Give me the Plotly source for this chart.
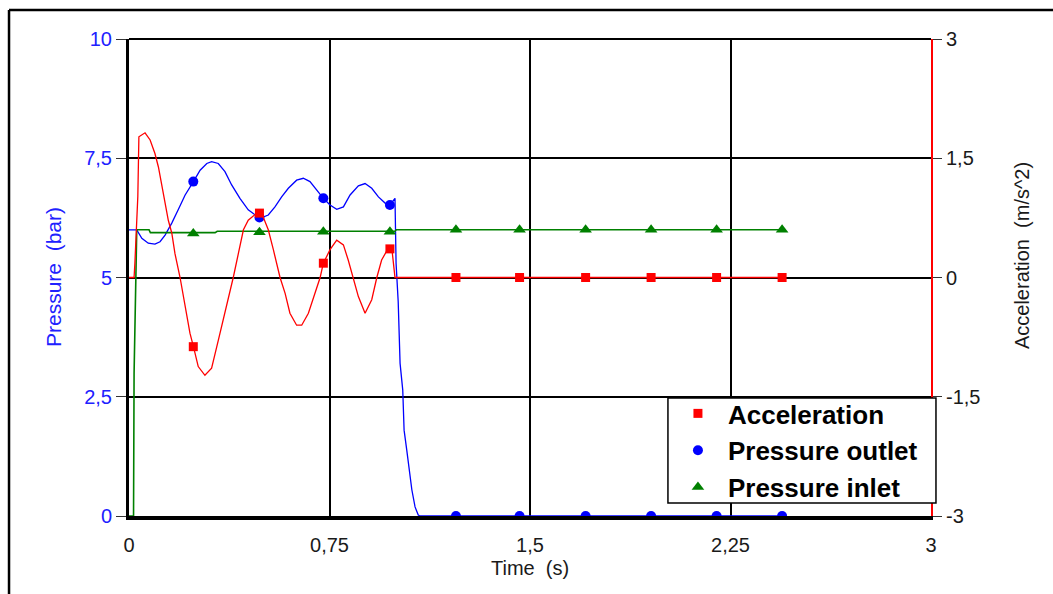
import plotly.graph_objects as go

# ---- time traces (s) ----
accel_t = [0, 0.019, 0.022, 0.033, 0.037, 0.060, 0.079, 0.097, 0.110, 0.122,
           0.135, 0.147, 0.160, 0.172, 0.191, 0.210, 0.228, 0.241, 0.259, 0.284,
           0.309, 0.334, 0.359, 0.390, 0.409, 0.428, 0.446, 0.478, 0.496, 0.521,
           0.540, 0.565, 0.584, 0.602, 0.627, 0.646, 0.671, 0.696, 0.715, 0.727,
           0.752, 0.777, 0.802, 0.820, 0.839, 0.858, 0.883, 0.908, 0.927, 0.945,
           0.970, 0.983, 0.995, 2.444]
accel = [0, 0, 0.18, 1.02, 1.77, 1.82, 1.73, 1.56, 1.39, 1.18,
         0.93, 0.72, 0.56, 0.30, 0, -0.37, -0.70, -0.87, -1.12, -1.23,
         -1.14, -0.79, -0.45, 0, 0.30, 0.60, 0.72, 0.81, 0.81, 0.60,
         0.35, 0, -0.20, -0.45, -0.60, -0.60, -0.45, -0.20, 0, 0.18,
         0.35, 0.47, 0.41, 0.22, 0, -0.24, -0.45, -0.28, 0, 0.22,
         0.37, 0.37, 0, 0]

outlet_t = [0, 0.029, 0.048, 0.072, 0.097, 0.116, 0.135, 0.160, 0.184, 0.210,
            0.241, 0.266, 0.291, 0.309, 0.334, 0.359, 0.384, 0.415, 0.446, 0.484,
            0.490, 0.521, 0.546, 0.571, 0.596, 0.627, 0.652, 0.677, 0.702, 0.727,
            0.752, 0.777, 0.802, 0.827, 0.858, 0.883, 0.908, 0.933, 0.958, 0.976,
            0.995, 0.999, 1.007, 1.014, 1.024, 1.029, 1.039, 1.049, 1.058, 1.070,
            1.082, 1.089, 2.444]
outlet_p = [6.0, 6.0, 5.82, 5.72, 5.70, 5.75, 5.89, 6.14, 6.42, 6.73,
            7.01, 7.25, 7.39, 7.43, 7.39, 7.22, 6.94, 6.66, 6.42, 6.27,
            6.24, 6.31, 6.48, 6.69, 6.87, 7.04, 7.08, 7.01, 6.83, 6.66,
            6.52, 6.43, 6.48, 6.73, 6.92, 6.97, 6.87, 6.69, 6.56, 6.52,
            6.66, 5.30, 4.49, 3.20, 2.64, 1.80, 1.38, 0.90, 0.55, 0.19,
            0.02, 0, 0]

inlet_t = [0, 0.017, 0.019, 0.029, 0.075, 0.080, 0.322, 0.330, 0.995, 1.000, 2.444]
inlet_p = [0, 0, 3.0, 6.0, 6.0, 5.94, 5.94, 5.97, 5.97, 6.0, 6.0]

# ---- sampled marker points ----
marker_t = [0.2405, 0.488, 0.727, 0.976, 1.223, 1.461, 1.708, 1.953, 2.198, 2.443]
marker_accel = [-0.87, 0.81, 0.18, 0.36, 0, 0, 0, 0, 0, 0]
marker_outlet = [7.01, 6.26, 6.66, 6.52, 0, 0, 0, 0, 0, 0]
marker_inlet = [5.92, 5.95, 5.96, 5.96, 6.0, 6.0, 6.0, 6.0, 6.0, 6.0]

# ---- axes ticks ----
x_ticks = [0, 0.75, 1.5, 2.25, 3]
x_labels = ["0", "0,75", "1,5", "2,25", "3"]
p_ticks = [0, 2.5, 5, 7.5, 10]
p_labels = ["0", "2,5", "5", "7,5", "10"]
a_ticks = [-3, -1.5, 0, 1.5, 3]
a_labels = ["-3", "-1,5", "0", "1,5", "3"]

RED = "#ff0000"
BLUE = "#0000ff"
GREEN = "#008000"
FONT = "Liberation Sans, Arial, sans-serif"
DARK = "#1a1a1a"

fig = go.Figure()

# curves
fig.add_trace(go.Scatter(x=accel_t, y=accel, yaxis="y2", mode="lines",
                         line=dict(color=RED, width=1.3), showlegend=False,
                         hoverinfo="skip"))
fig.add_trace(go.Scatter(x=outlet_t, y=outlet_p, mode="lines",
                         line=dict(color=BLUE, width=1.3), showlegend=False,
                         hoverinfo="skip"))
fig.add_trace(go.Scatter(x=inlet_t, y=inlet_p, mode="lines",
                         line=dict(color=GREEN, width=1.6), showlegend=False,
                         hoverinfo="skip"))

# markers (these carry the legend)
fig.add_trace(go.Scatter(x=marker_t, y=marker_accel, yaxis="y2", mode="markers",
                         name="Acceleration", legendgroup="a",
                         marker=dict(symbol="square", size=9, color=RED)))
fig.add_trace(go.Scatter(x=marker_t, y=marker_outlet, mode="markers",
                         name="Pressure outlet", legendgroup="b",
                         marker=dict(symbol="circle", size=10, color=BLUE)))
fig.add_trace(go.Scatter(x=marker_t, y=marker_inlet, mode="markers",
                         name="Pressure inlet", legendgroup="c",
                         marker=dict(symbol="triangle-up", size=11, color=GREEN)))

fig.update_layout(
    width=1053, height=594,
    margin=dict(l=129, r=122, t=39, b=78),
    paper_bgcolor="white", plot_bgcolor="white",
    font=dict(family=FONT, size=20, color=DARK),
    xaxis=dict(range=[0, 3], tickvals=x_ticks, ticktext=x_labels,
               showgrid=True, gridcolor="black", gridwidth=1.5,
               zeroline=False, showline=True, linecolor="black", linewidth=4,
               ticks="outside", ticklen=8, tickcolor="rgba(0,0,0,0)",
               tickfont=dict(size=20, color=DARK, family=FONT)),
    yaxis=dict(range=[0, 10], tickvals=p_ticks, ticktext=p_labels,
               showgrid=True, gridcolor="black", gridwidth=2,
               zeroline=False, showline=True, linecolor="black", linewidth=3,
               ticks="outside", ticklen=10, tickcolor="#333333", tickwidth=1,
               tickfont=dict(size=20, color="#2020ff", family=FONT)),
    yaxis2=dict(range=[-3, 3], tickvals=a_ticks, ticktext=a_labels,
                overlaying="y", side="right", showgrid=False, zeroline=False,
                showline=True, linecolor=RED, linewidth=2,
                ticks="outside", ticklen=9, tickcolor="#333333", tickwidth=1,
                tickfont=dict(size=20, color=DARK, family=FONT)),
    legend=dict(x=0.672, y=0.2642, xanchor="left", yanchor="top",
                bgcolor="rgba(0,0,0,0)", borderwidth=0,
                font=dict(family=FONT, size=26, color="black", weight="bold"),
                traceorder="grouped", tracegroupgap=0, itemwidth=50),
    shapes=[
        # legend box
        dict(type="rect", xref="paper", yref="paper", x0=0.672, x1=1.0062,
             y0=0.0273, y1=0.2474, fillcolor="white",
             line=dict(color="black", width=1.5), layer="above"),
        # top edge of the plot frame
        dict(type="line", xref="paper", yref="paper", x0=0, x1=1, y0=1, y1=1,
             line=dict(color="black", width=2), layer="above"),
        # outer window frame
        dict(type="line", xref="paper", yref="paper", x0=-0.1496, x1=1.2,
             y0=1.0608, y1=1.0608, line=dict(color="black", width=2.5),
             layer="above"),
        dict(type="line", xref="paper", yref="paper", x0=-0.1496, x1=-0.1496,
             y0=1.0608, y1=-0.25, line=dict(color="black", width=2.5),
             layer="above"),
    ],
    annotations=[
        dict(text="Pressure\u00a0 (bar)", xref="paper", yref="paper",
             x=-0.0941, y=0.5, textangle=-90, showarrow=False,
             font=dict(family=FONT, size=21, color="#2020ff"),
             xanchor="center", yanchor="middle"),
        dict(text="Acceleration\u00a0 (m/s^2)", xref="paper", yref="paper",
             x=1.1135, y=0.545, textangle=-90, showarrow=False,
             font=dict(family=FONT, size=20, color=DARK),
             xanchor="center", yanchor="middle"),
        dict(text="Time\u00a0 (s)", xref="paper", yref="paper",
             x=0.5, y=-0.11, showarrow=False,
             font=dict(family=FONT, size=20, color=DARK),
             xanchor="center", yanchor="middle"),
    ],
)

fig.write_html("out.html")
